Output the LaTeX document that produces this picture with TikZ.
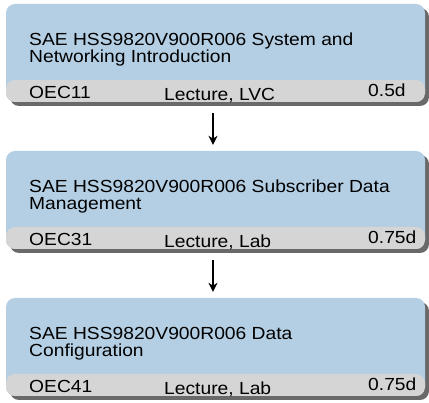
\documentclass[tikz,border=0pt]{standalone}
\usepackage{fontspec}
\setmainfont[FakeStretch=1.1]{Liberation Sans}
\usetikzlibrary{shadows,arrows.meta}
\definecolor{courseblue}{RGB}{180,207,228}
\definecolor{courseband}{RGB}{213,213,213}
\definecolor{courseshadow}{RGB}{105,105,105}

\tikzset{
  coursebox/.style={fill=courseblue, rounded corners=9pt, inner sep=0pt,
    minimum width=419pt, minimum height=98pt,
    drop shadow={shadow xshift=4pt, shadow yshift=-4pt, fill=courseshadow, opacity=1},
    path picture={\fill[courseband] ([yshift=-1pt]path picture bounding box.south west)
      rectangle ([yshift=22pt]path picture bounding box.south east);}},
  coursetext/.style={inner sep=0pt, font=\fontsize{17.5}{17}\selectfont},
  nextcourse/.style={-{Stealth[length=9pt,width=9pt]}, line width=1.3pt}
}

\begin{document}
\begin{tikzpicture}[x=1pt,y=1pt]
        \useasboundingbox (0,0) rectangle (429,-403);

        \foreach \i/\top/\title/\code/\mode/\days in {
            1/4/{SAE HSS9820V900R006 System and\\Networking Introduction}/OEC11/{Lecture, LVC}/0.5d,
            2/151/{SAE HSS9820V900R006 Subscriber Data\\Management}/OEC31/{Lecture, Lab}/0.75d,
            3/298/{SAE HSS9820V900R006 Data\\Configuration}/OEC41/{Lecture, Lab}/0.75d} {
          \node[coursebox] (c\i) at (215.5,{-\top-49}) {};
          % base of a two-line node sits on its last line
          \node[coursetext, anchor=base west, align=left] (title\i) at (29,{-\top-59}) {\title};
          \node[coursetext, anchor=base west] (code\i) at (29,{-\top-95}) {\code};
          \node[coursetext, anchor=base west] (mode\i) at (164,{-\top-97}) {\mode};
          \node[coursetext, anchor=base west] (days\i) at (368,{-\top-93}) {\days};
        }

        \draw[nextcourse, shorten <=11pt, shorten >=6pt] ([xshift=-2.5pt]c1.south) -- ([xshift=-2.5pt]c2.north);
        \draw[nextcourse, shorten <=11pt, shorten >=6pt] ([xshift=-2.5pt]c2.south) -- ([xshift=-2.5pt]c3.north);
      \end{tikzpicture}
\end{document}
